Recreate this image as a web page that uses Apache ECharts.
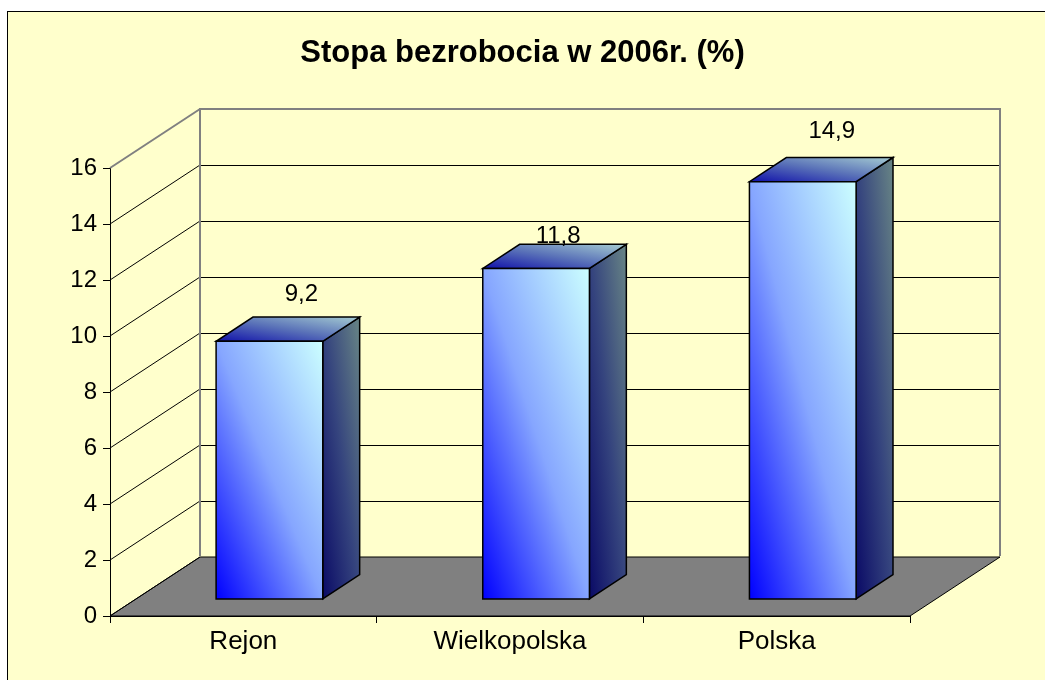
<!DOCTYPE html>
<html>
<head>
<meta charset="utf-8">
<title>Stopa bezrobocia w 2006r.</title>
<script src="https://cdn.jsdelivr.net/npm/echarts@6/dist/echarts.min.js"></script>
<style>
  html, body { margin: 0; padding: 0; background: #fff; }
  #wrap { position: relative; width: 1045px; height: 680px; overflow: hidden; }
  #frame {
    position: absolute; left: 7px; top: 11px; width: 1100px; height: 700px;
    border: 1px solid #000; background: #ffffcc; box-sizing: border-box;
  }
  #chart { position: absolute; left: 0; top: 0; width: 1045px; height: 680px; }
</style>
</head>
<body>
<div id="wrap">
  <div id="frame"></div>
  <div id="chart"></div>
</div>
<script>
// dane
const categories = ["Rejon", "Wielkopolska", "Polska"];
const rates = [9.2, 11.8, 14.9];
const yTicks = [0, 2, 4, 6, 8, 10, 12, 14, 16];

// przesuniecie "glebi" 3D w pikselach
const DX = 90;
const DY = -59;
// slupek zajmuje od 29% do 70% glebokosci podlogi
const barFront = 0.29;
const barBack = 0.70;
// Excel kladzie etykiety troche krzywo
const labelNudge = [[32, -47], [22, -32], [29, -50]];

const font = "Liberation Sans, Arial, sans-serif";
const yMax = yTicks[yTicks.length - 1];

const chart = echarts.init(document.getElementById("chart"), null, { renderer: "canvas" });

function fmt(v) {
  return String(v).replace(".", ",");
}

// gradient po przekatnej jak w Excelu (lewy dol -> prawa gora, w ukladzie prostokata)
function diagGrad(x, y, w, h, stops) {
  const dx = 1 / (2 * w), dy = -1 / (2 * h);
  const m = dx * dx + dy * dy;
  return new echarts.graphic.LinearGradient(x, y + h, x + dx / m, y + h + dy / m, stops, true);
}

chart.setOption({
  backgroundColor: "transparent",
  animation: false,
  title: {
    text: "Stopa bezrobocia w 2006r. (%)",
    left: "center",
    top: 33,
    textStyle: { fontFamily: font, fontSize: 31, fontWeight: "bold", color: "#000" },
  },
  grid: [
    // plaszczyzna przednia
    { left: 110, right: 135, top: 168, bottom: 64 },
    // tylna sciana
    { left: 200, right: 45, top: 109, bottom: 123 },
  ],
  xAxis: [
    {
      gridIndex: 0,
      type: "category",
      data: categories,
      boundaryGap: true,
      axisLine: { lineStyle: { color: "#000", width: 1 } },
      axisTick: { show: true, length: 7, interval: 0, lineStyle: { color: "#000" } },
      axisLabel: { fontFamily: font, fontSize: 26, color: "#000", margin: 13, interval: 0 },
      splitLine: { show: false },
    },
    {
      gridIndex: 1,
      type: "category",
      data: categories,
      show: false,
    },
  ],
  yAxis: [
    {
      gridIndex: 0,
      type: "value",
      min: 0,
      max: yMax,
      interval: 2,
      axisLine: { show: true, lineStyle: { color: "#000", width: 1 } },
      axisTick: { show: true, length: 7, lineStyle: { color: "#000" } },
      axisLabel: { fontFamily: font, fontSize: 24, color: "#000", margin: 13 },
      splitLine: { show: false },
    },
    {
      gridIndex: 1,
      type: "value",
      min: 0,
      max: yMax,
      interval: 2,
      axisLine: { show: false },
      axisTick: { show: false },
      axisLabel: { show: false },
      splitLine: { show: true, lineStyle: { color: "#000", width: 1 } },
    },
  ],
  series: [
    {
      // podloga
      name: "floor",
      type: "custom",
      xAxisIndex: 0,
      yAxisIndex: 0,
      z: 1,
      silent: true,
      data: [[0, 0]],
      renderItem: function (params, api) {
        const cs = params.coordSys;
        const y0 = api.coord([0, 0])[1];
        const l = cs.x, r = cs.x + cs.width;
        return {
          type: "polygon",
          shape: { points: [[l, y0], [r, y0], [r + DX, y0 + DY], [l + DX, y0 + DY]] },
          style: { fill: "#808080", stroke: "#000", lineWidth: 1 },
        };
      },
    },
    {
      // lewa sciana - ukosne linie siatki
      name: "side",
      type: "custom",
      xAxisIndex: 0,
      yAxisIndex: 0,
      z: 2,
      silent: true,
      data: yTicks.map((v) => [0, v]),
      renderItem: function (params, api) {
        const cs = params.coordSys;
        const v = api.value(1);
        const y = api.coord([0, v])[1];
        const top = v === yMax;
        return {
          type: "line",
          shape: { x1: cs.x, y1: y, x2: cs.x + DX, y2: y + DY },
          style: { stroke: top ? "#808080" : "#000", lineWidth: top ? 2 : 1 },
        };
      },
    },
    {
      // ramka tylnej sciany
      name: "wallFrame",
      type: "custom",
      xAxisIndex: 0,
      yAxisIndex: 0,
      z: 2,
      silent: true,
      data: [[0, yMax]],
      renderItem: function (params, api) {
        const cs = params.coordSys;
        const y0 = api.coord([0, 0])[1] + DY;
        const y1 = api.coord([0, yMax])[1] + DY;
        const l = cs.x + DX, r = cs.x + cs.width + DX;
        return {
          type: "polyline",
          shape: { points: [[l, y0 - 1], [l, y1], [r, y1], [r, y0 - 1]] },
          style: { stroke: "#808080", lineWidth: 2, fill: null },
        };
      },
    },
    {
      // slupki 3D
      name: "bars",
      type: "custom",
      xAxisIndex: 0,
      yAxisIndex: 0,
      z: 5,
      data: rates.map((v, i) => [i, v]),
      renderItem: function (params, api) {
        const i = api.value(0);
        const v = api.value(1);
        const base = api.coord([i, 0]);
        const topP = api.coord([i, v]);
        const half = api.size([1, 0])[0] * 0.2;
        const fx = DX * barFront, fy = DY * barFront;
        const bx = DX * (barBack - barFront), by = DY * (barBack - barFront);
        const x0 = base[0] - half + fx;
        const x1 = base[0] + half + fx;
        const yb = base[1] + fy;
        const yt = topP[1] + fy;
        const nudge = labelNudge[i] || [30, -45];
        return {
          type: "group",
          children: [
            {
              type: "polygon",
              shape: { points: [[x1, yt], [x1 + bx, yt + by], [x1 + bx, yb + by], [x1, yb]] },
              style: {
                fill: diagGrad(x1, yt + by, bx, yb - yt - by, [
                  { offset: 0, color: "#0a0a66" },
                  { offset: 0.5, color: "#35447e" },
                  { offset: 1, color: "#688585" },
                ]),
                stroke: "#000",
                lineWidth: 1.5,
              },
            },
            {
              type: "polygon",
              shape: { points: [[x0, yt], [x1, yt], [x1 + bx, yt + by], [x0 + bx, yt + by]] },
              style: {
                fill: diagGrad(x0, yt + by, x1 + bx - x0, -by, [
                  { offset: 0, color: "#1010aa" },
                  { offset: 0.5, color: "#5a72b8" },
                  { offset: 1, color: "#a6cdd2" },
                ]),
                stroke: "#000",
                lineWidth: 1.5,
              },
            },
            {
              type: "rect",
              shape: { x: x0, y: yt, width: x1 - x0, height: yb - yt },
              style: {
                fill: diagGrad(x0, yt, x1 - x0, yb - yt, [
                  { offset: 0, color: "#0000ff" },
                  { offset: 0.5, color: "#86a6ff" },
                  { offset: 1, color: "#ccffff" },
                ]),
                stroke: "#000",
                lineWidth: 1.5,
              },
            },
            {
              type: "text",
              x: (x0 + x1) / 2 + nudge[0],
              y: yt + nudge[1],
              style: {
                text: fmt(v),
                fontFamily: font,
                fontSize: 24,
                fill: "#000",
                align: "center",
                verticalAlign: "middle",
              },
            },
          ],
        };
      },
    },
  ],
});
</script>
</body>
</html>
